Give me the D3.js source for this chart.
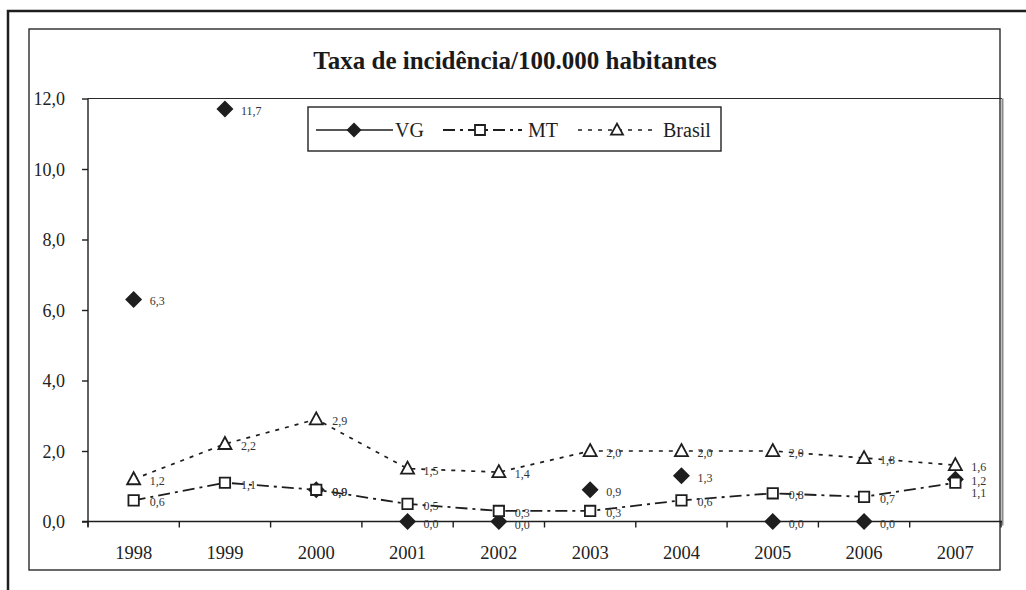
<!DOCTYPE html>
<html><head><meta charset="utf-8">
<script src="https://cdn.jsdelivr.net/npm/d3@7"></script>
<style>
body{margin:0;background:#fff}
svg{display:block}
svg text{font-family:"Liberation Serif","DejaVu Serif","Times New Roman",serif !important;}
</style>
</head><body>
<svg id="c" width="1026" height="590"></svg>
<script>
const years = ["1998","1999","2000","2001","2002","2003","2004","2005","2006","2007"];
const vg     = [6.3, 11.7, 0.9, 0.0, 0.0, 0.9, 1.3, 0.0, 0.0, 1.2];
const mt     = [0.6, 1.1, 0.9, 0.5, 0.3, 0.3, 0.6, 0.8, 0.7, 1.1];
const brasil = [1.2, 2.2, 2.9, 1.5, 1.4, 2.0, 2.0, 2.0, 1.8, 1.6];
const yTicks = [0, 2, 4, 6, 8, 10, 12];
const title = "Taxa de incidência/100.000 habitantes";
const seriesNames = ["VG", "MT", "Brasil"];

const svg = d3.select("#c");
const ink = "#1e1e1e";
const fmt = v => d3.format(".1f")(v).replace(".", ",");

// frames
svg.append("path").attr("d","M8,600 L8,11 L1030,11").attr("fill","none").attr("stroke",ink).attr("stroke-width",2.5);
svg.append("rect").attr("x",29).attr("y",29).attr("width",971).attr("height",541)
  .attr("fill","none").attr("stroke","#2a2a2a").attr("stroke-width",1.4);

const L = 88, R = 1001, T = 98.5, B = 521.5;
const x = d3.scaleBand().domain(years).range([L, R]).padding(0);
const y = d3.scaleLinear().domain([0, 12]).range([B, T]);
const cx = d => x(d) + x.bandwidth()/2;

// plot area top/right border
svg.append("line").attr("x1",L).attr("x2",R+1).attr("y1",T).attr("y2",T).attr("stroke","#2a2a2a").attr("stroke-width",1.2);
svg.append("line").attr("x1",R+1.5).attr("x2",R+1.5).attr("y1",T).attr("y2",B+4).attr("stroke","#8a8a8a").attr("stroke-width",2);

// y axis
const yAxis = d3.axisLeft(y).tickValues(yTicks).tickSize(6).tickPadding(17).tickFormat(fmt);
const gy = svg.append("g").attr("transform",`translate(${L},0)`).call(yAxis);
gy.select(".domain").attr("stroke",ink).attr("stroke-width",1.4).attr("d",`M0,${T}V${B+5}`);
gy.selectAll(".tick line").attr("stroke",ink).attr("stroke-width",1.4);
gy.selectAll(".tick text").attr("font-size",18).attr("fill","#222").attr("dy","0.34em");

// x axis
const xAxis = d3.axisBottom(x).tickSize(0).tickPadding(24);
const gx = svg.append("g").attr("transform",`translate(0,${B})`).call(xAxis);
gx.select(".domain").attr("stroke",ink).attr("stroke-width",1.4).attr("d",`M${L-6},0H${R+1}`);
gx.selectAll(".tick text").attr("font-size",18.5).attr("fill","#222");
const bounds = years.map(d => x(d)).concat([R]);
gx.selectAll(".bt").data(bounds).enter().append("line")
  .attr("x1",d=>d).attr("x2",d=>d).attr("y1",0).attr("y2",6).attr("stroke",ink).attr("stroke-width",1.4);

// title
svg.append("text").attr("x",515).attr("y",69).attr("text-anchor","middle")
  .attr("font-weight","bold").attr("font-size",25).attr("fill","#1a1a1a").text(title);

// marker shapes
const diamond = (px,py,r) => `M${px},${py-r}L${px+r},${py}L${px},${py+r}L${px-r},${py}Z`;
const square = (px,py,h) => `M${px-h},${py-h}H${px+h}V${py+h}H${px-h}Z`;
const tri = (px,py,w,h) => `M${px},${py-h*0.58}L${px+w/2},${py+h*0.42}L${px-w/2},${py+h*0.42}Z`;

const mtDash = "12,5,3,5";
const brDash = "4,6";

// lines
const line = d3.line().x((d,i)=>cx(years[i])).y(d=>y(d));
svg.append("path").attr("d",line(brasil)).attr("fill","none").attr("stroke",ink).attr("stroke-width",1.7).attr("stroke-dasharray",brDash);
svg.append("path").attr("d",line(mt)).attr("fill","none").attr("stroke",ink).attr("stroke-width",1.8).attr("stroke-dasharray",mtDash);

svg.append("g").selectAll("path").data(vg).enter().append("path")
  .attr("d",(d,i)=>diamond(cx(years[i]), y(d), 8.5)).attr("fill",ink);
svg.append("g").selectAll("path").data(mt).enter().append("path")
  .attr("d",(d,i)=>square(cx(years[i]), y(d), 5.2)).attr("fill","#fff").attr("stroke",ink).attr("stroke-width",1.8);
svg.append("g").selectAll("path").data(brasil).enter().append("path")
  .attr("d",(d,i)=>tri(cx(years[i]), y(d), 13, 12)).attr("fill","#fff").attr("stroke",ink).attr("stroke-width",1.8);

// data labels with simple collision nudging
const labels = [];
[vg, mt, brasil].forEach((s, si) => s.forEach((v, i) => {
  labels.push({si, i, text: fmt(v), lx: cx(years[i]) + 16, ly: y(v) + 6});
}));
years.forEach((yr, i) => {
  const grp = labels.filter(l => l.i === i).sort((a,b) => a.ly - b.ly);
  for (let k = 1; k < grp.length; k++) {
    const prev = grp[k-1], cur = grp[k];
    if (cur.text === prev.text && Math.abs(cur.ly - prev.ly) < 1) continue;
    if (cur.ly - prev.ly < 12) cur.ly = prev.ly + 12;
  }
});
svg.append("g").selectAll("text").data(labels).enter().append("text")
  .attr("x", d => d.lx).attr("y", d => d.ly)
  .attr("font-size",12).attr("fill","#333").text(d => d.text);

// legend
svg.append("rect").attr("x",308).attr("y",107).attr("width",413).attr("height",44)
  .attr("fill","#fff").attr("stroke","#222").attr("stroke-width",1.4);
const ly = 130;
svg.append("line").attr("x1",316).attr("x2",393).attr("y1",ly).attr("y2",ly).attr("stroke",ink).attr("stroke-width",1.4);
svg.append("path").attr("d",diamond(354,ly,7.5)).attr("fill",ink);
svg.append("line").attr("x1",443).attr("x2",522).attr("y1",ly).attr("y2",ly).attr("stroke",ink).attr("stroke-width",1.8).attr("stroke-dasharray",mtDash);
svg.append("path").attr("d",square(480,ly,5)).attr("fill","#fff").attr("stroke",ink).attr("stroke-width",1.8);
svg.append("line").attr("x1",578).attr("x2",652).attr("y1",ly).attr("y2",ly).attr("stroke",ink).attr("stroke-width",1.7).attr("stroke-dasharray",brDash);
svg.append("path").attr("d",tri(617,ly,12,11)).attr("fill","#fff").attr("stroke",ink).attr("stroke-width",1.8);
const lx = [395, 528, 663];
seriesNames.forEach((n,i) => {
  svg.append("text").attr("x",lx[i]).attr("y",137).attr("font-size",20)
    .attr("fill","#1e1e1e").text(n);
});
</script>
</body></html>
